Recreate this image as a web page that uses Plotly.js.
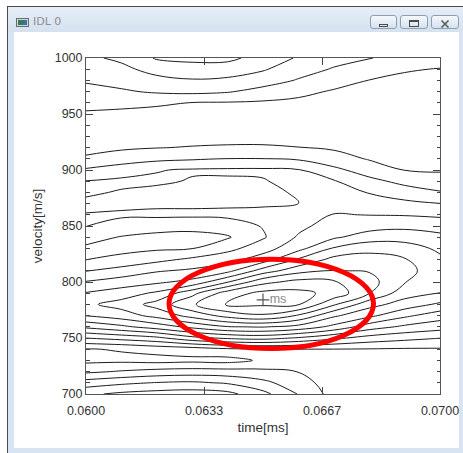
<!DOCTYPE html>
<html>
<head>
<meta charset="utf-8">
<script src="https://cdn.plot.ly/plotly-3.0.1.min.js"></script>
<style>
html,body{margin:0;padding:0;width:463px;height:453px;overflow:hidden;background:#fff;}
#win{position:absolute;left:7px;top:6px;width:456px;height:447px;background:#d8e4f1;border-left:1px solid #4a4a4a;border-top:1px solid #4a4a4a;box-sizing:border-box;}
#titlebar{position:absolute;left:8px;top:7px;width:455px;height:25px;background:linear-gradient(#e6eef7,#d4e1ef);}
#client{position:absolute;left:14px;top:32px;width:445px;height:416px;background:#fff;}
#ttl{position:absolute;left:33px;top:15px;font:11px "DejaVu Sans","Noto Sans",sans-serif;line-height:14px;color:#8e8e8e;}
.btn{position:absolute;top:15px;height:14px;border:1px solid #8d9db2;border-radius:3px;background:linear-gradient(#f5f8fc,#d6e1ee);box-sizing:border-box;}
#plot{position:absolute;left:0;top:0;width:463px;height:453px;}
</style>
</head>
<body>
<div id="win"></div>
<div id="titlebar"></div>
<div id="client"></div>
<svg style="position:absolute;left:16px;top:18px" width="14" height="10"><rect x="0.5" y="0.5" width="12" height="8" fill="#cfd6dd" stroke="#6b6b6b"/><rect x="2" y="2" width="6" height="5" fill="#2f7d5e"/><rect x="8" y="2" width="3" height="5" fill="#3f6fae"/></svg>
<div id="ttl">IDL 0</div>
<div class="btn" style="left:370px;width:27px"><svg width="25" height="12"><rect x="8.5" y="6.5" width="8" height="2" fill="none" stroke="#4b4b4b"/></svg></div>
<div class="btn" style="left:400px;width:28px"><svg width="26" height="12"><rect x="8.5" y="2.5" width="9" height="6" fill="none" stroke="#4b4b4b"/><line x1="8.5" y1="3.5" x2="17.5" y2="3.5" stroke="#4b4b4b"/></svg></div>
<div class="btn" style="left:431px;width:28px"><svg width="26" height="12"><path d="M9.5 2.5 L16.5 9.5 M16.5 2.5 L9.5 9.5" stroke="#5a5a5a" stroke-width="1.6"/></svg></div>
<div id="plot"></div>
<script>
// time axis samples [ms]
const timeMs = [0.060, 0.061, 0.062, 0.063, 0.064, 0.065, 0.066, 0.067, 0.068, 0.069, 0.070];
// velocity samples [m/s], top row first
const velocity = [1000, 990, 980, 970, 960, 950, 940, 930, 920, 910, 900, 890, 880, 870, 860, 850,
                  840, 830, 820, 810, 800, 790, 780, 770, 760, 750, 740, 730, 720, 710, 700];
// field values (one row per velocity, one column per time)
const fieldRows = [
  [2.3, 2.7, 3.6, 3.75, 3.75, 3.1, 2.4, 1.85, 1.55, 1.1, 0.8],
  [1.95, 2.25, 2.87, 3.09, 3.02, 2.6, 1.92, 1.42, 1.02, 0.56, 0.47],
  [1.6, 1.84, 2.2, 2.42, 2.31, 1.96, 1.42, 0.86, 0.48, 0.36, 0.32],
  [1.2, 1.38, 1.62, 1.73, 1.58, 1.15, 0.73, 0.41, 0.29, 0.2, 0.17],
  [0.78, 0.76, 0.65, 0.47, 0.43, 0.37, 0.3, 0.17, 0.1, 0.05, 0.03],
  [0.39, 0.29, 0.19, 0.12, 0.09, 0.05, 0.0, -0.06, -0.09, -0.11, -0.12],
  [0.05, -0.07, -0.16, -0.2, -0.19, -0.12, -0.1, -0.1, -0.12, -0.13, -0.14],
  [-0.11, 0.01, 0.12, 0.17, 0.2, 0.21, 0.2, 0.14, 0.06, 0.02, 0.0],
  [0.21, 0.35, 0.47, 0.55, 0.6, 0.6, 0.52, 0.38, 0.24, 0.17, 0.14],
  [0.64, 1.02, 1.25, 1.39, 1.52, 1.52, 1.38, 0.89, 0.43, 0.33, 0.28],
  [1.64, 2.0, 2.45, 2.6, 2.64, 2.65, 2.56, 1.75, 1.02, 0.48, 0.42],
  [2.53, 2.71, 2.65, 2.43, 2.38, 2.44, 2.8, 2.58, 1.79, 1.21, 0.83],
  [2.64, 2.42, 2.25, 2.14, 2.1, 2.17, 2.65, 2.9, 2.45, 1.99, 1.59],
  [2.30, 2.29, 2.33, 2.35, 2.37, 2.39, 2.47, 3.21, 2.97, 2.74, 2.52],
  [2.54, 2.63, 2.7, 2.68, 2.7, 2.75, 2.9, 3.54, 3.48, 3.44, 3.32],
  [2.53, 2.16, 1.88, 1.82, 2.04, 2.56, 3.24, 3.95, 4.1, 4.24, 4.09],
  [1.88, 1.44, 1.25, 1.18, 1.4, 2.39, 3.62, 4.35, 4.97, 5.1, 4.75],
  [1.32, 1.22, 1.35, 1.47, 2.19, 3.07, 4.17, 5.6, 6.2, 5.96, 5.31],
  [1.48, 1.78, 2.23, 2.71, 3.17, 3.99, 5.64, 6.82, 6.9, 6.58, 5.69],
  [2.46, 2.9, 3.41, 3.68, 4.21, 5.97, 7.16, 7.54, 7.43, 6.8, 5.97],
  [3.57, 3.96, 4.32, 4.8, 6.45, 8.2, 8.83, 8.6, 7.88, 6.55, 5.77],
  [4.57, 5.01, 5.68, 7.19, 9.0, 9.78, 9.78, 9.2, 7.53, 5.93, 5.49],
  [5.3, 5.88, 6.88, 8.35, 9.65, 9.64, 9.57, 7.64, 5.87, 5.07, 4.31],
  [4.53, 5.03, 5.82, 6.86, 7.86, 8.36, 7.39, 5.67, 4.75, 3.71, 2.95],
  [2.72, 3.28, 3.97, 4.76, 5.45, 5.57, 5.16, 4.23, 2.97, 2.31, 1.94],
  [0.52, 0.86, 1.27, 2.2, 2.67, 2.87, 2.39, 1.72, 1.12, 0.79, 0.52],
  [-1.55, -1.43, -1.15, -1.0, -0.67, -0.55, -0.51, -0.52, -0.55, -0.6, -0.6],
  [-1.75, -1.72, -1.85, -1.75, -1.85, -1.35, -1.2, -0.9, -0.95, -0.95, -0.95],
  [-0.7, -0.41, -0.15, -0.05, -0.1, -0.26, -0.52, -1.0, -1.1, -1.1, -1.1],
  [0.97, 1.3, 1.55, 1.66, 1.39, 0.77, -0.11, -0.95, -1.2, -1.2, -1.2],
  [2.3, 2.7, 2.9, 3.0, 2.8, 1.8, 0.45, -0.9, -1.25, -1.25, -1.25]
];
// x tick positions and labels
const timeTicks = [0.06, 0.0633333, 0.0666667, 0.07];
const timeTickText = ["0.0600", "0.0633", "0.0667", "0.0700"];
// marked maximum
const markTime = [0.0650];
const markVelocity = [784];
const markLabel = ["ms"];

const FONT = 'Liberation Sans, Arial, sans-serif';

const contour = {
  type: 'contour',
  x: timeMs, y: velocity, z: fieldRows,
  contours: {coloring: 'none', start: -1.5, end: 9.5, size: 1, showlabels: false},
  line: {color: '#1c1c1c', width: 1, smoothing: 1.1},
  showscale: false, hoverinfo: 'skip'
};
const mark = {
  type: 'scatter', mode: 'markers+text',
  x: markTime, y: markVelocity, text: markLabel,
  textposition: 'middle right',
  textfont: {family: FONT, size: 12.5, color: '#8a8a8a'},
  marker: {symbol: 'cross-thin', size: 9, line: {color: '#555', width: 1.2}},
  hoverinfo: 'skip', cliponaxis: false
};

const layout = {
  width: 463, height: 453,
  margin: {l: 86, r: 23, t: 58, b: 59, pad: 0},
  paper_bgcolor: 'rgba(0,0,0,0)', plot_bgcolor: '#fff',
  showlegend: false,
  font: {family: FONT, size: 12.5, color: '#333'},
  xaxis: {
    range: [0.06, 0.07], tickmode: 'array', tickvals: timeTicks, ticktext: timeTickText,
    ticks: 'inside', ticklen: 7, tickwidth: 1, tickcolor: '#444',
    showline: true, linecolor: '#555', linewidth: 1, mirror: 'ticks',
    showgrid: false, zeroline: false, ticklabelstandoff: 5,
    tickfont: {size: 12.5, color: '#333'},
    title: {text: 'time[ms]', font: {size: 13.5, color: '#333'}, standoff: 5}
  },
  yaxis: {
    range: [700, 1000], tickmode: 'linear', tick0: 700, dtick: 50,
    ticks: 'inside', ticklen: 7, tickwidth: 1, tickcolor: '#444',
    minor: {dtick: 10, ticks: 'inside', ticklen: 3.5, tickcolor: '#444', showgrid: false},
    showline: true, linecolor: '#555', linewidth: 1, mirror: 'ticks',
    showgrid: false, zeroline: false,
    tickfont: {size: 12.5, color: '#333'},
    title: {text: 'velocity[m/s]', font: {size: 13.5, color: '#333'}, standoff: 8}
  },
  shapes: [{
    type: 'circle', xref: 'x', yref: 'y',
    x0: 0.062345, x1: 0.068122, y0: 740.6, y1: 820.4,
    line: {color: '#ff0000', width: 5}, layer: 'above'
  }]
};

Plotly.newPlot('plot', [contour, mark], layout, {staticPlot: true, displayModeBar: false});
</script>
</body>
</html>
